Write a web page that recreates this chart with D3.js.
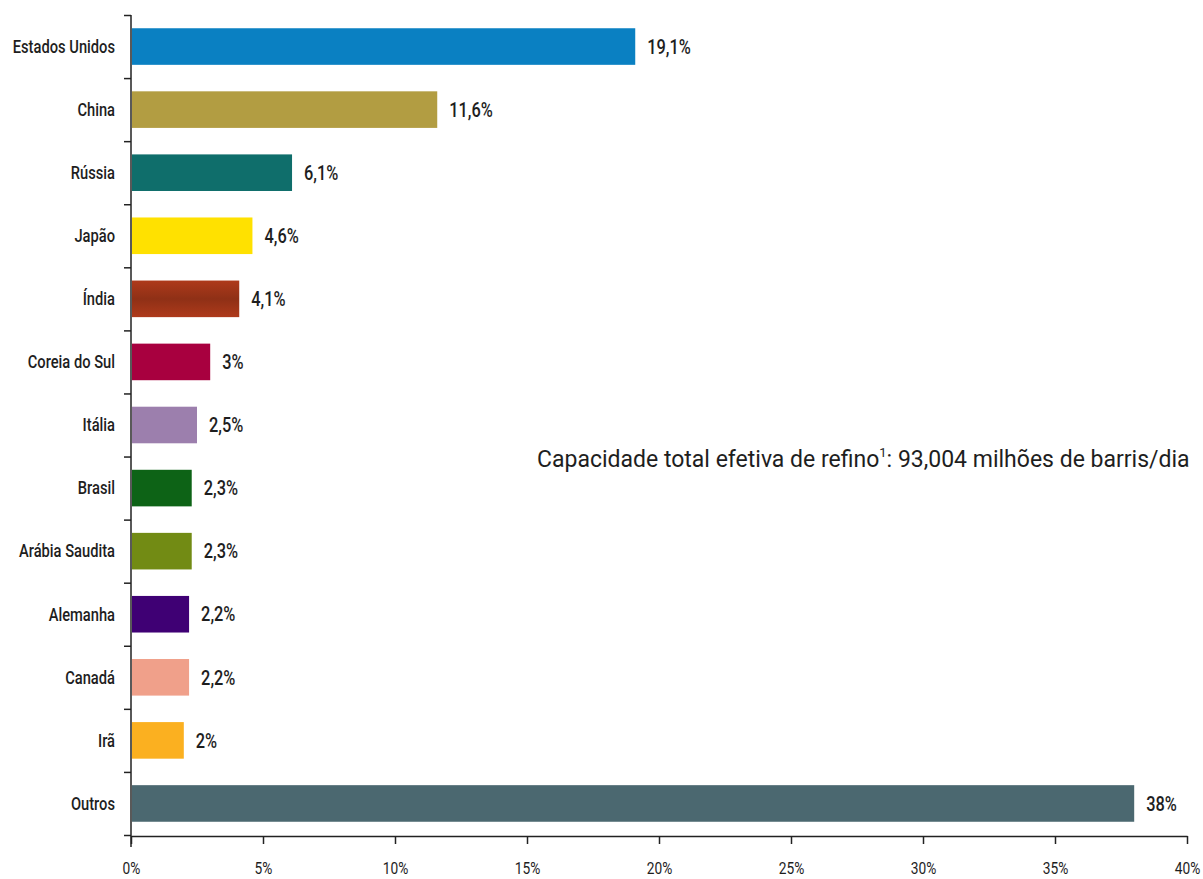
<!DOCTYPE html>
<html>
<head>
<meta charset="utf-8">
<script src="https://cdn.jsdelivr.net/npm/d3@7"></script>
<style>
  html, body { margin: 0; padding: 0; background: #fff; }
  svg { display: block; }
  text { font-family: Roboto, "Noto Sans", "DejaVu Sans Condensed", sans-serif; fill: #1e1e1e; }
</style>
</head>
<body>
<svg id="chart" width="1203" height="879"></svg>
<script>
// Capacidade efetiva de refino por país (% do total mundial)
const countries = ["Estados Unidos", "China", "Rússia", "Japão", "Índia", "Coreia do Sul",
  "Itália", "Brasil", "Arábia Saudita", "Alemanha", "Canadá", "Irã", "Outros"];
const shares = [19.1, 11.6, 6.1, 4.6, 4.1, 3, 2.5, 2.3, 2.3, 2.2, 2.2, 2, 38];
const shareLabels = ["19,1%", "11,6%", "6,1%", "4,6%", "4,1%", "3%", "2,5%", "2,3%", "2,3%", "2,2%", "2,2%", "2%", "38%"];
const barColors = ["#0a80c2", "#b29d42", "#0f6e6b", "#ffe100", "#9c3418", "#a8003f",
  "#9c7fad", "#0d6316", "#728b14", "#3f0074", "#f0a08a", "#fbb020", "#4b6870"];
const xTicks = [0, 5, 10, 15, 20, 25, 30, 35, 40];
const xTickLabels = ["0%", "5%", "10%", "15%", "20%", "25%", "30%", "35%", "40%"];
const note = "Capacidade total efetiva de refino";
const noteRest = ": 93,004 milhões de barris/dia";

const svg = d3.select("#chart");

const plotLeft = 131, plotRight = 1187, plotTop = 15, plotBottom = 835;
const narrow = 0.82; // horizontal squeeze giving a condensed face

const x = d3.scaleLinear().domain([0, 40]).range([plotLeft, plotRight]);
const y = d3.scaleBand().domain(countries).range([plotTop, plotBottom]).padding(0);
const barH = y.step() * 0.58;
const yMid = d => y(d) + y.step() / 2;

// Shaded fill for the Índia bar (lighter rims, darker core)
const indiaBase = d3.color(barColors[4]);
const grad = svg.append("defs").append("linearGradient")
  .attr("id", "shade-india").attr("x1", 0).attr("x2", 0).attr("y1", 0).attr("y2", 1);
grad.append("stop").attr("offset", "0%").attr("stop-color", indiaBase.brighter(0.3));
grad.append("stop").attr("offset", "50%").attr("stop-color", indiaBase.darker(0.25));
grad.append("stop").attr("offset", "100%").attr("stop-color", indiaBase.brighter(0.3));

// Bars
svg.append("g").selectAll("rect")
  .data(countries)
  .join("rect")
  .attr("x", x(0) + 1)
  .attr("y", d => yMid(d) - barH / 2)
  .attr("width", (d, i) => x(shares[i]) - x(0) - 1)
  .attr("height", barH)
  .attr("fill", (d, i) => d === "Índia" ? "url(#shade-india)" : barColors[i]);

// Value labels
svg.append("g").selectAll("text")
  .data(countries)
  .join("text")
  .attr("transform", (d, i) => `translate(${x(shares[i]) + 12},${yMid(d)}) scale(${narrow},1)`)
  .attr("dy", "0.36em")
  .style("font-size", "20px")
  .style("font-weight", 500)
  .text((d, i) => shareLabels[i]);

// Category axis: boundary ticks on the left, names centred in each band
const yEdges = d3.scaleLinear().domain([0, countries.length]).range([plotTop, plotBottom]);
const yAxis = svg.append("g")
  .attr("transform", `translate(${plotLeft},0)`)
  .call(d3.axisLeft(yEdges).tickValues(d3.range(countries.length + 1)).tickSize(7).tickSizeOuter(0).tickFormat(""));
yAxis.select(".domain").remove();
yAxis.selectAll("line").attr("stroke", "#222").attr("stroke-width", 1.5);

svg.append("line")
  .attr("x1", plotLeft).attr("x2", plotLeft)
  .attr("y1", plotTop).attr("y2", plotBottom + 12)
  .attr("stroke", "#222").attr("stroke-width", 1.5);

svg.append("g").selectAll("text")
  .data(countries)
  .join("text")
  .attr("transform", d => `translate(115,${yMid(d)}) scale(0.84,1)`)
  .attr("dy", "0.36em")
  .attr("text-anchor", "end")
  .style("font-size", "17.5px")
  .style("font-weight", 500)
  .text(d => d);

// Percentage axis
const xAxis = svg.append("g")
  .attr("transform", `translate(0,${plotBottom + 1})`)
  .call(d3.axisBottom(x).tickValues(xTicks).tickSize(8).tickSizeOuter(0)
    .tickFormat((d, i) => xTickLabels[i]));
xAxis.select(".domain").attr("stroke", "#222").attr("stroke-width", 1.5);
xAxis.selectAll("line").attr("stroke", "#222").attr("stroke-width", 1.5);
xAxis.selectAll("text")
  .attr("y", 0)
  .attr("dy", 0)
  .attr("transform", `translate(0,38) scale(0.86,1)`)
  .style("font-size", "16px")
  .attr("fill", "#1e1e1e");

// Total capacity note
const t = svg.append("text")
  .attr("transform", `translate(537,467)`)
  .style("font-size", "23px");
t.append("tspan").text(note);
t.append("tspan").attr("dy", "-10").style("font-size", "13px").text("1");
t.append("tspan").attr("dy", "10").text(noteRest);
</script>
</body>
</html>
